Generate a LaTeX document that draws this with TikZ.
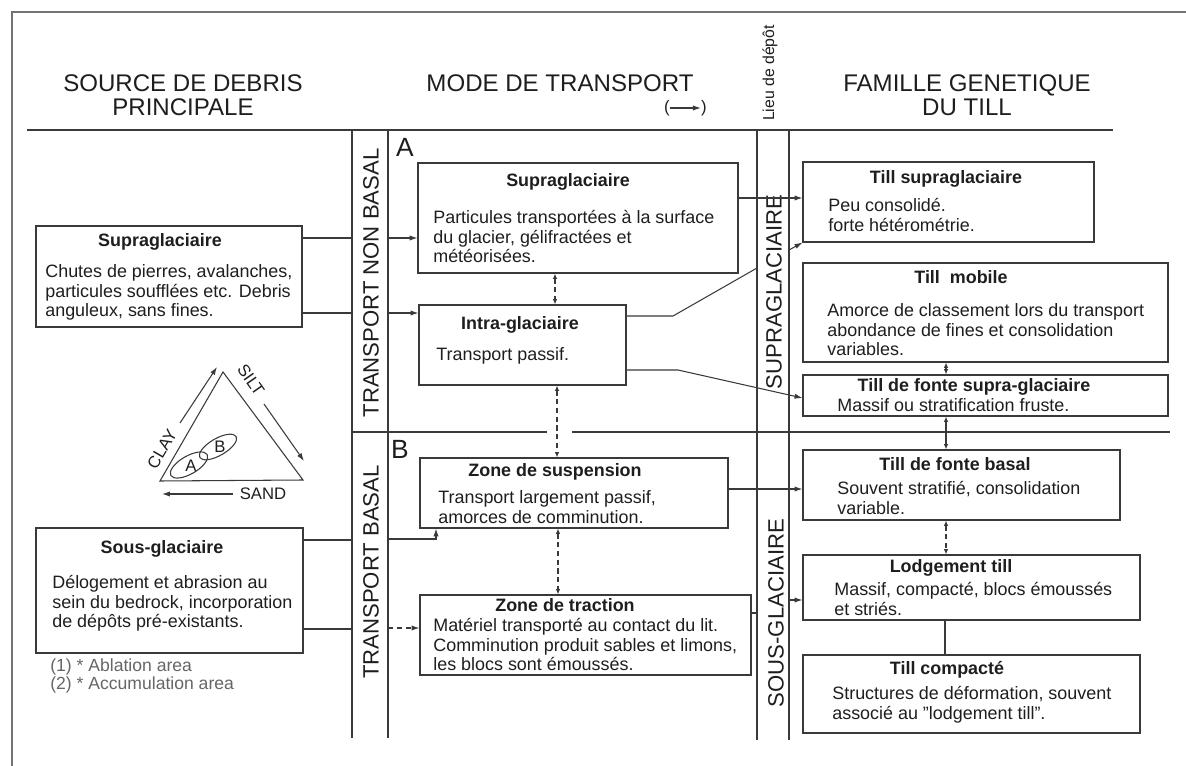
\documentclass[tikz,border=0pt]{standalone}
\usepackage{fontspec}
\setmainfont{Liberation Sans}
\usetikzlibrary{arrows.meta,fit}
\definecolor{ink}{HTML}{1E1E1E}
\definecolor{rule}{HTML}{3A3A3A}
\begin{document}
\begin{tikzpicture}[
  x=0.02cm, y=-0.02cm,
  every node/.style={text=ink},
  tbox/.style={draw=rule, line width=0.6pt, inner sep=0pt, rectangle},
  ttl/.style={font=\fontsize{10.2}{11.4}\selectfont\bfseries, inner sep=0pt, text height=7.3pt, text depth=2.1pt},
  txt/.style={font=\fontsize{10.2}{11.2}\selectfont, align=left, anchor=north west, inner sep=0pt},
  hdr/.style={font=\fontsize{13.7}{13.6}\selectfont, align=center, inner sep=0pt},
  bandtxt/.style={font=\fontsize{12.6}{14}\selectfont, rotate=90, inner sep=0pt},
  lbl/.style={font=\fontsize{9.5}{10}\selectfont, inner sep=0pt},
  note/.style={font=\fontsize{10}{11}\selectfont, text=black!60, anchor=west, inner sep=0pt},
  ln/.style={draw=rule, line width=0.7pt},
  cn/.style={draw=rule, line width=0.6pt},
  arr/.style={-{Latex[length=4.5pt,width=3pt]}},
  arrboth/.style={{Latex[length=3pt,width=2.5pt]}-{Latex[length=3pt,width=2.5pt]}},
  cnd/.style={cn, dash pattern=on 3pt off 2pt, arrboth}
]
\fill[white] (0,0) rectangle (1186,766);
\useasboundingbox (0,0) rectangle (1186,766);
\draw[line width=1.1pt, draw=black!55] (12,766) -- (12,12) -- (1186,12);

\coordinate (bl) at (352,0);
\coordinate (br) at (388,0);
\coordinate (cl) at (757,0);
\coordinate (cr) at (789,0);

\node[hdr] (hsrc) at (183,95) {SOURCE DE DEBRIS\\PRINCIPALE};
\node[hdr] (hmode) at (560,83) {MODE DE TRANSPORT};
\node[lbl] (parl) at (667,108) {(};
\node[lbl] (parr) at (704,108) {)};
\draw[cn, arr] (parl.east) -- (parr.west);
\node[font=\fontsize{9}{10}\selectfont, rotate=90, inner sep=0pt] (hlieu) at (770,73) {Lieu de dépôt};
\node[hdr] (hfam) at (967,95) {FAMILLE GENETIQUE\\DU TILL};

\draw[ln] (27,130) -- (1113,130);
\draw[ln] (bl |- 0,130) -- (bl |- 0,738) (br |- 0,130) -- (br |- 0,738);
\draw[ln] (cl |- 0,130) -- (cl |- 0,740) (cr |- 0,130) -- (cr |- 0,740);
\draw[ln] (352,432) -- (547,432) (572,432) -- (1170,432);

\node[bandtxt] (nbasal) at (371,283) {TRANSPORT NON BASAL};
\node[bandtxt] (basal) at (371,572) {TRANSPORT BASAL};
\node[bandtxt] (lsup) at (774,292) {SUPRAGLACIAIRE};
\node[bandtxt] (lsous) at (776,613) {SOUS-GLACIAIRE};
\node[font=\fontsize{15}{16}\selectfont, inner sep=0pt] (za) at (405,147) {A};
\node[font=\fontsize{15}{16}\selectfont, inner sep=0pt] (zb) at (400,449) {B};

\node[tbox, fit={(36,226) (302,327)}] (srcsup) {};
\node[ttl] (srcsupt) at (160,242) {Supraglaciaire};
\node[txt] (srcsupb) at (45,264) {Chutes de pierres, avalanches,\\particules soufflées etc. Debris\\anguleux, sans fines.};

\node[tbox, fit={(36,528) (303,653)}] (srcsub) {};
\node[ttl] (srcsubt) at (162,549) {Sous-glaciaire};
\node[txt] (srcsubb) at (52,575) {Délogement et abrasion au\\sein du bedrock, incorporation\\de dépôts pré-existants.};
\node[note] (fn1) at (50,667) {(1) * Ablation area};
\node[note] (fn2) at (50,685) {(2) * Accumulation area};

\node[tbox, fit={(418,163) (738,273)}] (trsup) {};
\node[ttl] (trsupt) at (568,182) {Supraglaciaire};
\node[txt] (trsupb) at (433,210) {Particules transportées à la surface\\du glacier, gélifractées et\\météorisées.};

\node[tbox, fit={(419,305) (626,385)}] (trint) {};
\node[ttl] (trintt) at (520,325) {Intra-glaciaire};
\node[txt] (trintb) at (436,347) {Transport passif.};

\node[tbox, fit={(420,458) (728,528)}] (trsus) {};
\node[ttl] (trsust) at (555,472) {Zone de suspension};
\node[txt] (trsusb) at (438,490) {Transport largement passif,\\amorces de comminution.};

\node[tbox, fit={(420,595) (751,675)}] (trtrac) {};
\node[ttl] (trtract) at (565,607) {Zone de traction};
\node[txt] (trtracb) at (433,618) {Matériel transporté au contact du lit.\\Comminution produit sables et limons,\\les blocs sont émoussés.};

\node[tbox, fit={(803,162) (1094,242)}] (tsup) {};
\node[ttl] (tsupt) at (946,179) {Till supraglaciaire};
\node[txt] (tsupb) at (828,198) {Peu consolidé.\\forte hétérométrie.};

\node[tbox, fit={(803,263) (1168,362)}] (tmob) {};
\node[ttl] (tmobt) at (961,279) {Till\ \ mobile};
\node[txt] (tmobb) at (827,303) {Amorce de classement lors du transport\\abondance de fines et consolidation\\variables.};

\node[tbox, fit={(803,375) (1168,416)}] (tfsup) {};
\node[ttl] (tfsupt) at (974,387) {Till de fonte supra-glaciaire};
\node[txt] (tfsupb) at (837,398) {Massif ou stratification fruste.};

\node[tbox, fit={(803,450) (1120,520)}] (tfbas) {};
\node[ttl] (tfbast) at (955,466) {Till de fonte basal};
\node[txt] (tfbasb) at (837,481) {Souvent stratifié, consolidation\\variable.};

\node[tbox, fit={(803,555) (1140,620)}] (tlodg) {};
\node[ttl] (tlodgt) at (951,568) {Lodgement till};
\node[txt] (tlodgb) at (834,582) {Massif, compacté, blocs émoussés\\et striés.};

\node[tbox, fit={(803,655) (1140,733)}] (tcomp) {};
\node[ttl] (tcompt) at (947,670) {Till compacté};
\node[txt] (tcompb) at (832,686) {Structures de déformation, souvent\\associé au {\char"22}lodgement till{\char"22}.};

\draw[cn] (160,481) -- (223,372) -- (303,480) -- cycle;
\draw[cn, arr] (180,423) -- (217,367);
\draw[cn, arr] (264,404) -- (304,461);
\draw[cn, arr] (233,494) -- (162,494);
\node[lbl, rotate=60] (clay) at (162,449) {CLAY};
\node[lbl, rotate=-55] (silt) at (251,380) {SILT};
\node[lbl] (sand) at (263,494) {SAND};
\draw[cn, rotate around={30:(189,465)}] (189,465) ellipse [x radius=0.42cm, y radius=0.18cm];
\draw[cn, rotate around={30:(218,447)}] (218,447) ellipse [x radius=0.42cm, y radius=0.17cm];
\node[lbl] (ea) at (191,466) {A};
\node[lbl] (eb) at (220,447) {B};

\draw[cn] (srcsup.east |- 0,238) -- (bl |- 0,238);
\draw[cn, arr] (br |- 0,238) -- (trsup.west |- 0,238);
\draw[cn] (srcsup.east |- 0,313) -- (bl |- 0,313);
\draw[cn, arr] (br |- 0,313) -- (trint.west |- 0,313);
\draw[cn] (srcsub.east |- 0,540) -- (bl |- 0,540);
\draw[cn, arr] (br |- 0,539) -| (trsus.south -| 436,0);
\draw[cn] (srcsub.east |- 0,629) -- (bl |- 0,629);
\draw[cn, arr, dash pattern=on 3pt off 2pt] (br |- 0,628) -- (trtrac.west |- 0,628);

\draw[cnd] (trsup.south -| 555,0) -- (trint.north -| 555,0);
\draw[cnd] (trint.south -| 557,0) -- (trsus.north -| 557,0);
\draw[cnd] (trsus.south -| 558,0) -- (trtrac.north -| 558,0);

\draw[cn, arr] (trsup.east |- 0,198) -- (tsup.west |- 0,198);
\draw[cn] (trint.east |- 0,316) -- (673,316) -- (cl |- 0,268);
\draw[cn, arr] (cr |- 0,250) -- (tsup.south west);
\draw[cn, arr] (trint.east |- 0,370) -- (678,370) -- (tfsup.west |- 0,398);
\draw[cn, arr] (trsus.east |- 0,489) -- (tfbas.west |- 0,489);
\draw[cn] (trtrac.east |- 0,613) -- (cl |- 0,613);
\draw[cn, arr] (cr |- 0,600) -- (tlodg.west |- 0,600);

\draw[cn, arrboth] (tmob.south -| 946,0) -- (tfsup.north -| 946,0);
\draw[cn, arrboth] (tfsup.south -| 946,0) -- (tfbas.north -| 946,0);
\draw[cnd] (tfbas.south -| 946,0) -- (tlodg.north -| 946,0);
\draw[cn] (tlodg.south -| 945,0) -- (tcomp.north -| 945,0);
\end{tikzpicture}
\end{document}
